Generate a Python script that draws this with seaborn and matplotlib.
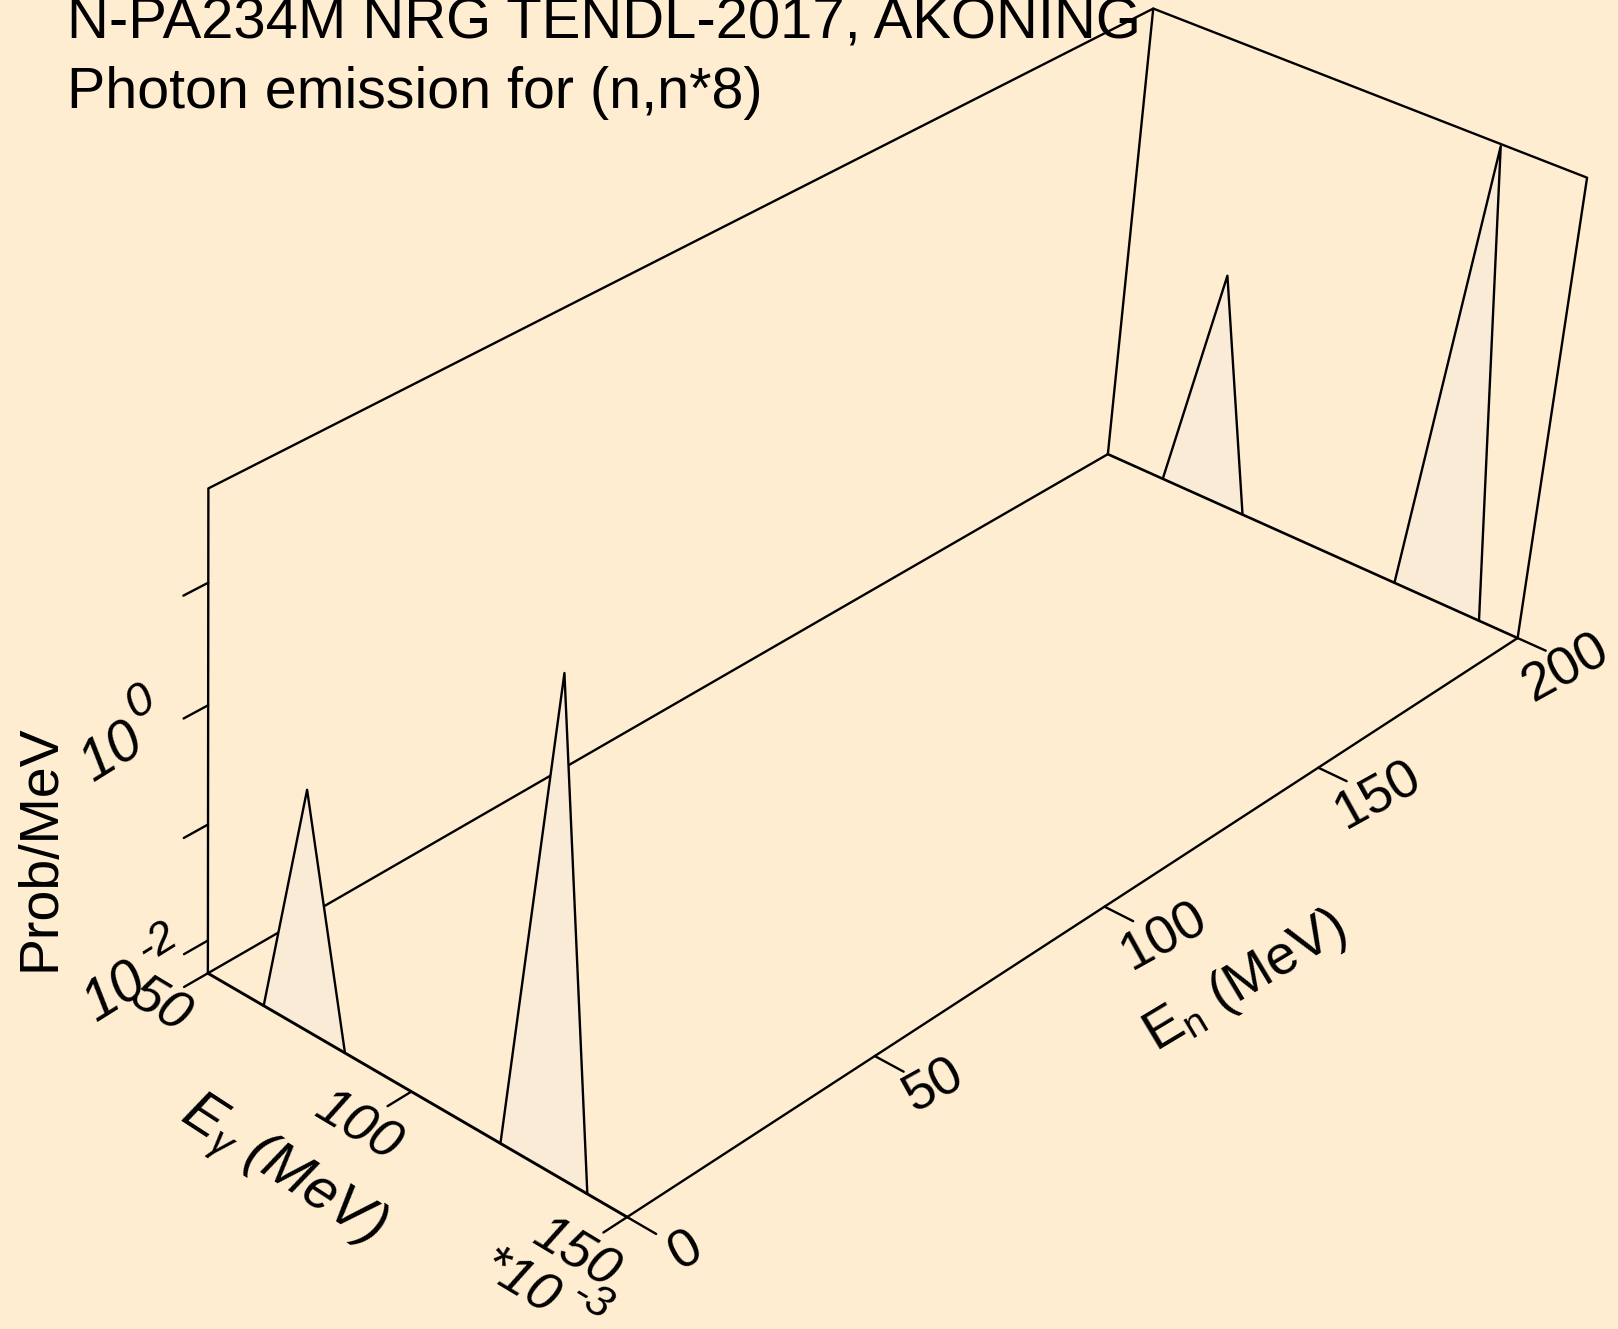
import numpy as np
import pandas as pd
import matplotlib
matplotlib.use('Agg')
import matplotlib.pyplot as plt
import seaborn as sns

# Photon spectra, one row of peaks at each incident energy
en_slices = [200, 0]
eg_peak_a = [64, 74, 84]
eg_peak_b = [121, 131, 141]
prob_floor = 0.00516
prob_a = {0: 0.56, 200: 0.56}
prob_b = {0: 54.0, 200: 54.0}

en_ticks = [0, 50, 100, 150, 200]
eg_ticks = [50, 100, 150]
z_ticks = [-2, -1, 0, 1]

en_range = (0, 200)
eg_range = (50, 150)
z_range = (np.log10(prob_floor), 1.75)

BG = '#FFEDD1'
FILL = '#FAEBD7'
LW = 1.7

# Camera: where known box points land on the page, used to fit the perspective
box_world = [(0, 50, z_range[0]), (0, 150, z_range[0]), (200, 150, z_range[0]), (200, 50, z_range[0]),
             (0, 50, z_range[1]), (200, 50, z_range[1]), (200, 150, z_range[1]),
             (50, 150, z_range[0]), (100, 150, z_range[0]), (150, 150, z_range[0]),
             (0, 100, z_range[0]), (0, 50, 0), (0, 50, -2), (0, 50, 1)]
box_page = [(208, 974), (627.5, 1217.5), (1517, 638), (1108, 455),
            (208.5, 493), (1153.5, 8), (1587, 177.5),
            (875, 1055.5), (1105, 907.3), (1318.3, 767.3),
            (410.7, 1091.8), (208, 702.7), (208, 940), (208, 580)]

rows, rhs = [], []
for (a, b, c), (px, py) in zip(box_world, box_page):
    rows.append([a, b, c, 1, 0, 0, 0, 0, -px * a, -px * b, -px * c])
    rows.append([0, 0, 0, 0, a, b, c, 1, -py * a, -py * b, -py * c])
    rhs += [px, py]
cam = np.linalg.lstsq(np.array(rows, dtype=float), np.array(rhs, dtype=float), rcond=None)[0]
cam = np.append(cam, 1).reshape(3, 4)


def project(en, eg, z):
    pts = np.column_stack([en, eg, z, np.ones(len(en))]) @ cam.T
    return pts[:, 0] / pts[:, 2], pts[:, 1] / pts[:, 2]


def line3d(ax, en, eg, z, zorder=2, lw=LW):
    x, y = project(en, eg, z)
    df = pd.DataFrame({'x': x, 'y': y})
    sns.lineplot(data=df, x='x', y='y', sort=False, estimator=None, color='black',
                 linewidth=lw, ax=ax, legend=False)
    ax.lines[-1].set_zorder(zorder)


sns.set_theme(style='white', rc={'figure.facecolor': BG, 'savefig.facecolor': BG, 'text.color': 'black'})
plt.rcParams['font.family'] = ['Liberation Sans', 'DejaVu Sans']
plt.rcParams['mathtext.fontset'] = 'custom'
plt.rcParams['mathtext.rm'] = 'Liberation Sans'
plt.rcParams['mathtext.it'] = 'Liberation Sans:italic'

fig = plt.figure(figsize=(16.18, 13.29), dpi=100)
ax = fig.add_axes([0, 0, 1, 1])
ax.set_facecolor(BG)

zb, zt = z_range
# back walls and floor
line3d(ax, [0, 0, 200, 200], [50, 50, 50, 50], [zb, zt, zt, zb])
line3d(ax, [200, 200, 200], [50, 150, 150], [zt, zt, zb])
line3d(ax, [0, 200], [50, 50], [zb, zb])

# spectra
for en in en_slices:
    for eg, peak in [(eg_peak_a, prob_a[en]), (eg_peak_b, prob_b[en])]:
        z = np.log10([prob_floor, peak, prob_floor])
        x, y = project([en] * 3, eg, z)
        ax.fill(x, y, color=FILL, zorder=3, linewidth=0)
        line3d(ax, [en] * 3, eg, z, zorder=4)

# front edges and ticks
line3d(ax, [200, 200], [50, 150], [zb, zb], zorder=5, lw=1.9)
line3d(ax, [0, 0], [50, 150], [zb, zb], zorder=5, lw=2.1)
line3d(ax, [0, 200], [150, 150], [zb, zb], zorder=5)
for t in en_ticks:
    line3d(ax, [t, t], [150, 156.5], [zb, zb])
for t in eg_ticks:
    line3d(ax, [0, -4.6], [t, t], [zb, zb])
for t in z_ticks:
    line3d(ax, [0, -4.6], [50, 50], [t, t])

ax.set_xlim(0, 1618)
ax.set_ylim(1329, 0)
ax.axis('off')

# titles
ax.text(67, 39, 'N-PA234M NRG TENDL-2017, AKONING', fontsize=41.8, ha='left', va='baseline', zorder=1)
ax.text(67, 108, 'Photon emission for (n,n*8)', fontsize=41.3, ha='left', va='baseline', zorder=1)

TICK = 39
SUP = 32
for label, pos in zip(['0', '50', '100', '150', '200'],
                      [(686, 1251), (934, 1086), (1164, 936), (1378, 795), (1566, 668)]):
    ax.text(*pos, label, fontsize=TICK, rotation=29, ha='center', va='center', rotation_mode='anchor')
for label, pos in zip(['50', '100', '150'], [(160, 1006), (358, 1127), (576, 1254)]):
    ax.text(*pos, label, fontsize=TICK, rotation=-31, ha='center', va='center', rotation_mode='anchor', style='italic')
ax.text(519, 1284, '*10', fontsize=39, rotation=-31, ha='center', va='center', rotation_mode='anchor', style='italic')
ax.text(592, 1301, '-3', fontsize=SUP, rotation=-31, ha='center', va='center', rotation_mode='anchor', style='italic')

ax.text(281, 1171, r'E$_{\gamma}$ (MeV)', fontsize=41, rotation=-33, ha='center', va='center', rotation_mode='anchor', style='italic')
ax.text(1245, 982, r'E$_{\mathrm{n}}$ (MeV)', fontsize=40, rotation=31, ha='center', va='center', rotation_mode='anchor')

ax.text(112, 753, '10', fontsize=41, rotation=32, ha='center', va='center', rotation_mode='anchor', style='italic')
ax.text(141, 702, '0', fontsize=34, rotation=32, ha='center', va='center', rotation_mode='anchor', style='italic')
ax.text(115, 993, '10', fontsize=41, rotation=32, ha='center', va='center', rotation_mode='anchor', style='italic')
ax.text(157, 943, '-2', fontsize=SUP, rotation=32, ha='center', va='center', rotation_mode='anchor', style='italic')
ax.text(41, 848, 'Prob/MeV', fontsize=40, rotation=90, ha='center', va='center', rotation_mode='anchor')

fig.savefig('out.png', dpi=100, facecolor=BG)
